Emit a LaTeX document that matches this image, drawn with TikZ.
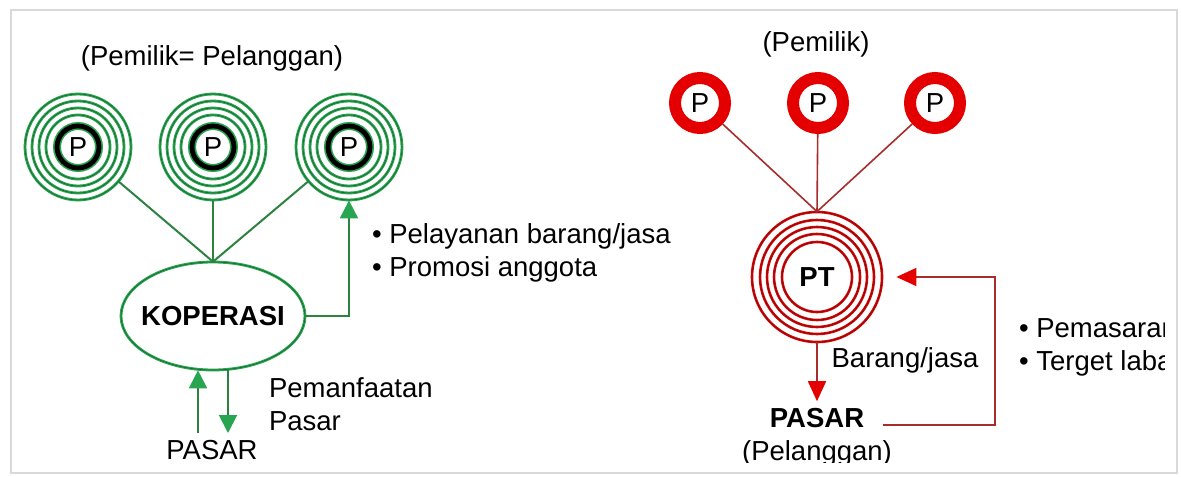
\documentclass[tikz,border=0pt]{standalone}
\usepackage{fontspec}
\setmainfont{Liberation Sans}
\usetikzlibrary{
    arrows.meta,
    shapes,
    calc,
    positioning
}
\definecolor{kopgreen}{RGB}{40,165,80}
\definecolor{kopdark}{RGB}{30,100,50}
\definecolor{kopline}{RGB}{45,130,65}
\definecolor{ptred}{RGB}{228,0,0}
\definecolor{ptdark}{RGB}{120,20,20}
\definecolor{ptline}{RGB}{165,45,45}

\begin{document}
\begin{tikzpicture}[x=0.5pt, y=-0.5pt,
    every node/.style={font=\fontsize{13.75}{16.5}\selectfont},
    owner/.style={circle, minimum size=53pt, inner sep=0pt},
    share/.style={circle, draw=ptred, line width=6pt, minimum size=25pt, inner sep=0pt},
    kring/.style={draw=kopdark, line width=0.3pt, preaction={draw=kopgreen, line width=1.4pt}},
    kcore/.style={draw=black, line width=2.4pt, preaction={draw=kopgreen, line width=4pt}},
    pring/.style={draw=ptdark, line width=0.4pt, preaction={draw=ptred, line width=1.3pt}},
    kline/.style={draw=kopline, line width=1pt},
    pline/.style={draw=ptline, line width=0.8pt}]
    \useasboundingbox (0,0) rectangle (1181,476);
    \draw[gray!30, line width=1.2pt] (11,10) rectangle (1177,473);

    \begin{scope}[>={Triangle[width=9pt, length=9pt, color=kopgreen]}]
        \node (capk) at (212,58) {(Pemilik= Pelanggan)};
        \node[owner] (k1) at (78,147) {P};
        \node[owner] (k2) at (213,147) {P};
        \node[owner] (k3) at (349,147) {P};
        \foreach \n in {k1,k2,k3} {
            \foreach \r in {26.5,23,19.5,16}
                \draw[kring] (\n.center) circle[radius=\r pt];
            \draw[kcore] (\n.center) circle[radius=10.5pt];
        }
        \node[ellipse, kring, minimum width=92pt, minimum height=54pt, inner xsep=-10pt, inner ysep=0pt] (kop) at (213,316) {\textbf{KOPERASI}};
        \draw[kline] (k1) -- (kop.north);
        \draw[kline] (k2) -- (kop.north);
        \draw[kline] (k3) -- (kop.north);
        \draw[kline, ->] (kop.east) -| (k3);
        \node[align=left, anchor=west] (svc) at (365,253) {\textbullet\ Pelayanan barang/jasa\\ \textbullet\ Promosi anggota};
        \node (pask) at (212,450) {PASAR};
        \coordinate (kin) at (198,433);
        \coordinate (kout) at (228,433);
        \draw[kline, ->] (kin) -- (kin |- kop.south);
        \draw[kline, ->] (kout |- kop.south) -- (kout);
        \node[align=left, anchor=west] (use) at (262,404) {Pemanfaatan\\Pasar};
    \end{scope}

    \begin{scope}[>={Triangle[width=9pt, length=10pt, color=ptred]}]
        \node (capp) at (816,44) {(Pemilik)};
        \node[share] (r1) at (700,103) {P};
        \node[share] (r2) at (818,103) {P};
        \node[share] (r3) at (935,103) {P};
        \node[circle, minimum size=65pt, inner sep=0pt] (pt) at (817,277) {\textbf{PT}};
        \foreach \r in {32.5,28.5,25,21.5,17.5}
            \draw[pring] (pt.center) circle[radius=\r pt];
        \draw[pline] (r1) -- (pt.north);
        \draw[pline] (r2) -- (pt.north);
        \draw[pline] (r3) -- (pt.north);
        \node (pasr) at (817,418) {\textbf{PASAR}};
        \draw[pline, ->] (pt) -- (pasr);
        \node (goods) at (905,360) {Barang/jasa};
        \coordinate (fb) at (995,277);
        \draw[pline, ->, shorten <=6pt, shorten >=7pt] ([yshift=-3.5pt]pasr.east) -| (fb) -- (pt.east);
        \begin{scope}
            \clip (0,0) rectangle (1164,462);
            \node (cust) at (817,453) {(Pelanggan)};
            \node[align=left, anchor=west] (mkt) at (1012,347) {\textbullet\ Pemasaran\\ \textbullet\ Terget laba};
        \end{scope}
    \end{scope}
\end{tikzpicture}
\end{document}
